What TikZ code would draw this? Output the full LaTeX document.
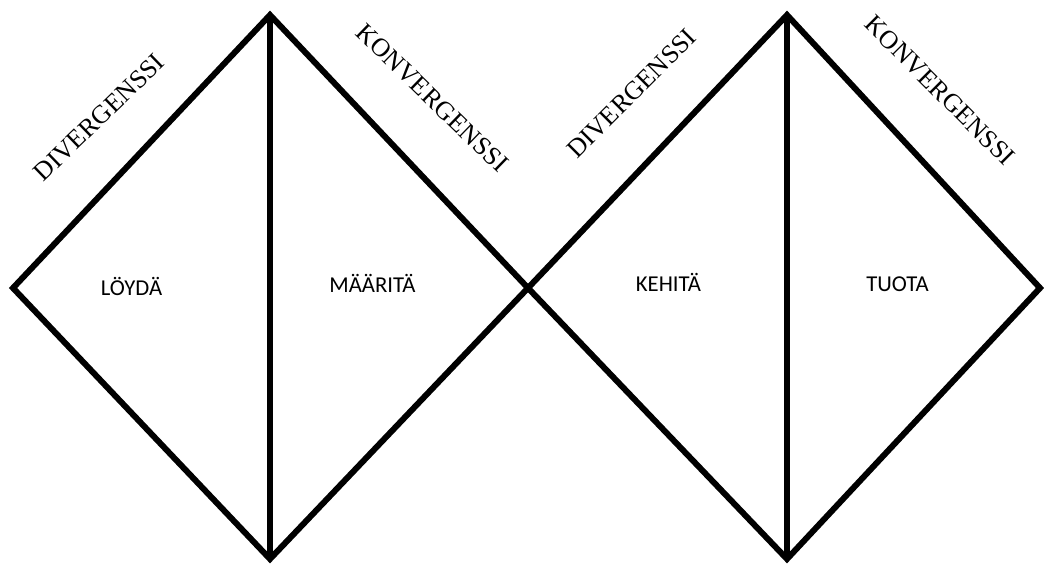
\documentclass[tikz,border=0pt]{standalone}
\usepackage{fontspec}
\setmainfont{Liberation Serif}
\newfontfamily\calib{Carlito}
\begin{document}
\begin{tikzpicture}[x=1pt,y=-1pt,
  edge/.style={line width=6pt,line join=miter,black},
  phase/.style={font=\fontsize{26}{30}\selectfont,inner sep=0pt},
  inner/.style={font=\calib\fontsize{22.7}{26}\selectfont,inner sep=0pt,anchor=base}]
\useasboundingbox (0,0) rectangle (1044,563);
\coordinate (L1) at (13,288);
\coordinate (T1) at (270,15);
\coordinate (B1) at (270,559);
\coordinate (C) at (528,288);
\coordinate (T2) at (787,15);
\coordinate (B2) at (787,559);
\coordinate (R2) at (1040,288);
\draw[edge] (L1) -- (T1) -- (C) -- (B1) -- cycle;
\draw[edge] (C) -- (T2) -- (R2) -- (B2) -- cycle;
\draw[edge] (T1) -- (B1);
\draw[edge] (T2) -- (B2);
\node[phase,rotate=44] (d1) at (99,117.5) {DIVERGENSSI};
\node[phase,rotate=-44] (k1) at (432.5,98) {KONVERGENSSI};
\node[phase,rotate=45] (d2) at (631.5,93.5) {DIVERGENSSI};
\node[phase,rotate=-45] (k2) at (940,90.5) {KONVERGENSSI};
\node[inner] (loyda) at (131.5,295) {LÖYDÄ};
\node[inner] (maarita) at (372.5,292) {MÄÄRITÄ};
\node[inner] (kehita) at (668.5,291) {KEHITÄ};
\node[inner] (tuota) at (897.5,291) {TUOTA};
\end{tikzpicture}
\end{document}
